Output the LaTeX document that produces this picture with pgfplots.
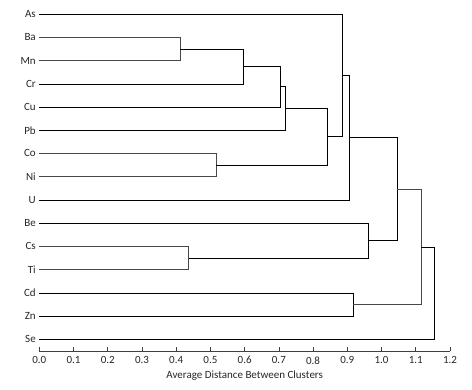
\documentclass[border=0pt]{standalone}
\usepackage{pgfplots}
\pgfplotsset{compat=1.18}
\usepackage{fontspec}
\setmainfont{Carlito}
\begin{document}
\begin{tikzpicture}
\useasboundingbox (0,0) rectangle (472pt,389pt);
\begin{axis}[
  at={(39.3pt,38pt)}, anchor=south west,
  scale only axis, width=410.7pt, height=348.6pt,
  xmin=0, xmax=1.2, ymin=0.5, ymax=15.5,
  separate axis lines,
  axis x line*=bottom, axis y line*=left,
  x axis line style={-, draw=black!75, line width=0.6pt},
  y axis line style={draw=none},
  xtick={0,0.1,...,1.2},
  ytick={1,...,15},
  yticklabels={Se,Zn,Cd,Ti,Cs,Be,U,Ni,Co,Pb,Cu,Cr,Mn,Ba,As},
  major y tick style={draw=none},
  major x tick style={draw=black!75, line width=0.6pt},
  tick align=inside, major tick length=4pt,
  xticklabel style={yshift=-2pt, /pgf/number format/.cd, fixed, fixed zerofill, precision=1, assume math mode=true},
  tick label style={font=\fontsize{11}{13}\selectfont, text=black!85},
  xlabel={Average Distance Between Clusters},
  xlabel style={font=\fontsize{11}{13}\selectfont, text=black!85},
  cycle list={{draw=black!72, solid, line width=0.8pt, mark=none}},
  clip=false,
]
% A: Ba-Mn
\addplot coordinates {(0,14) (0.412,14) (0.412,13) (0,13)};
% B: A-Cr
\addplot coordinates {(0.412,13.5) (0.596,13.5) (0.596,12) (0,12)};
% C: B-Cu
\addplot coordinates {(0.596,12.75) (0.703,12.75) (0.703,11) (0,11)};
% D: C-Pb
\addplot coordinates {(0.703,11.875) (0.719,11.875) (0.719,10) (0,10)};
% E: Co-Ni
\addplot coordinates {(0,9) (0.516,9) (0.516,8) (0,8)};
% F: D-E
\addplot coordinates {(0.719,10.9375) (0.842,10.9375) (0.842,8.5) (0.516,8.5)};
% G: As-F
\addplot coordinates {(0,15) (0.886,15) (0.886,9.71875) (0.842,9.71875)};
% H: G-U
\addplot coordinates {(0.886,12.359) (0.906,12.359) (0.906,7) (0,7)};
% I: Cs-Ti
\addplot coordinates {(0,5) (0.436,5) (0.436,4) (0,4)};
% J: Be-I
\addplot coordinates {(0,6) (0.961,6) (0.961,4.5) (0.436,4.5)};
% K: H-J
\addplot coordinates {(0.906,9.680) (1.046,9.680) (1.046,5.25) (0.961,5.25)};
% L: Cd-Zn
\addplot coordinates {(0,3) (0.916,3) (0.916,2) (0,2)};
% M: K-L
\addplot coordinates {(1.046,7.465) (1.116,7.465) (1.116,2.5) (0.916,2.5)};
% N: M-Se
\addplot coordinates {(1.116,4.982) (1.153,4.982) (1.153,1) (0,1)};
\end{axis}
\end{tikzpicture}
\end{document}
